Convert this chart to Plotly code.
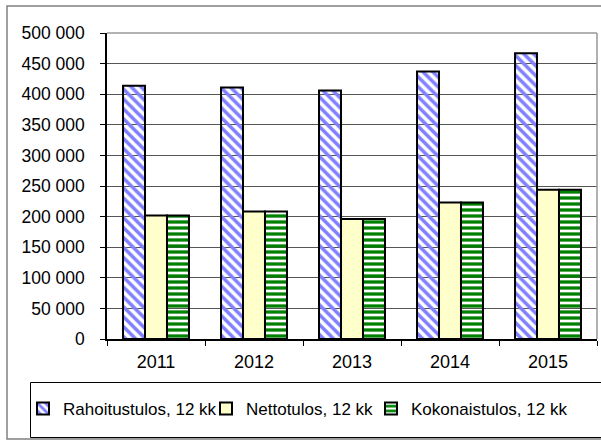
import plotly.graph_objects as go

# ---- data ----
years = ["2011", "2012", "2013", "2014", "2015"]
rahoitustulos = [414000, 411000, 406000, 437000, 467000]
nettotulos = [202000, 208500, 196000, 223000, 244000]
kokonaistulos = [202000, 208500, 196000, 223000, 244000]
series_names = ["Rahoitustulos, 12 kk", "Nettotulos, 12 kk", "Kokonaistulos, 12 kk"]
y_tickvals = [0, 50000, 100000, 150000, 200000, 250000, 300000, 350000, 400000, 450000, 500000]
y_ticktext = ["0", "50 000", "100 000", "150 000", "200 000", "250 000",
              "300 000", "350 000", "400 000", "450 000", "500 000"]

W, H = 601, 442
L, R, T, B = 107, 4, 33, 103
PW, PH = W - L - R, H - T - B


def px(x):
    return (x - L) / PW


def py(y):
    return (H - B - y) / PH


FONT = "Liberation Sans, Arial, sans-serif"

fig = go.Figure()
fig.add_trace(go.Bar(
    x=years, y=rahoitustulos, name=series_names[0], legend="legend",
    marker=dict(color="white",
                line=dict(color="black", width=2),
                pattern=dict(shape="\\", fgcolor="#8080ff", fgopacity=1,
                             size=7, solidity=0.5, fillmode="replace")),
))
fig.add_trace(go.Bar(
    x=years, y=nettotulos, name=series_names[1], legend="legend2",
    marker=dict(color="#ffffcc", line=dict(color="black", width=2)),
))
fig.add_trace(go.Bar(
    x=years, y=kokonaistulos, name=series_names[2], legend="legend3",
    marker=dict(color="white",
                line=dict(color="black", width=2),
                pattern=dict(shape="-", fgcolor="#008000", fgopacity=1,
                             size=6, solidity=0.55, fillmode="replace")),
))

shapes = [
    # outer chart border
    dict(type="rect", xref="paper", yref="paper",
         x0=px(7), x1=px(640), y0=py(439), y1=py(6),
         line=dict(color="#808080", width=1.5), fillcolor="rgba(0,0,0,0)", layer="below"),
    # legend box
    dict(type="rect", xref="paper", yref="paper",
         x0=px(30.5), x1=px(640), y0=py(437.5), y1=py(382.5),
         line=dict(color="black", width=1), fillcolor="rgba(0,0,0,0)", layer="below"),
    # plot area top and right border
    dict(type="line", xref="paper", yref="paper", x0=0, x1=1, y0=1, y1=1,
         line=dict(color="#999999", width=1.5), layer="above"),
    dict(type="line", xref="paper", yref="paper", x0=1, x1=1, y0=0, y1=1,
         line=dict(color="#999999", width=1.5), layer="above"),
]


def legend_at(text_x):
    return dict(orientation="h", xref="container", yref="container",
                x=(text_x - 40) / W, y=1 - 409 / H, xanchor="left", yanchor="middle",
                font=dict(family=FONT, size=17, color="black"),
                bgcolor="rgba(0,0,0,0)", borderwidth=0, itemwidth=30)


fig.update_layout(
    width=W, height=H,
    margin=dict(l=L, r=R, t=T, b=B),
    paper_bgcolor="white", plot_bgcolor="white",
    barmode="group", bargap=0.327, bargroupgap=0,
    font=dict(family=FONT, size=18, color="black"),
    showlegend=True,
    legend=legend_at(63),
    legend2=legend_at(246),
    legend3=legend_at(411),
    xaxis=dict(type="category", showline=True, linecolor="black", linewidth=1.5,
               ticks="outside", tickson="boundaries", ticklen=5, tickcolor="black",
               ticklabelstandoff=6,
               tickfont=dict(family=FONT, size=18), showgrid=False, fixedrange=True),
    yaxis=dict(range=[0, 500000], tickvals=y_tickvals, ticktext=y_ticktext,
               showline=True, linecolor="black", linewidth=1.5,
               ticks="outside", ticklen=5, tickcolor="black",
               ticklabelstandoff=12,
               showgrid=True, gridcolor="#555555", gridwidth=1,
               zeroline=False,
               tickfont=dict(family=FONT, size=17.5), fixedrange=True),
    shapes=shapes,
)

fig.write_html("out.html", config={"displayModeBar": False},
               post_script="document.body.style.margin='0';")
